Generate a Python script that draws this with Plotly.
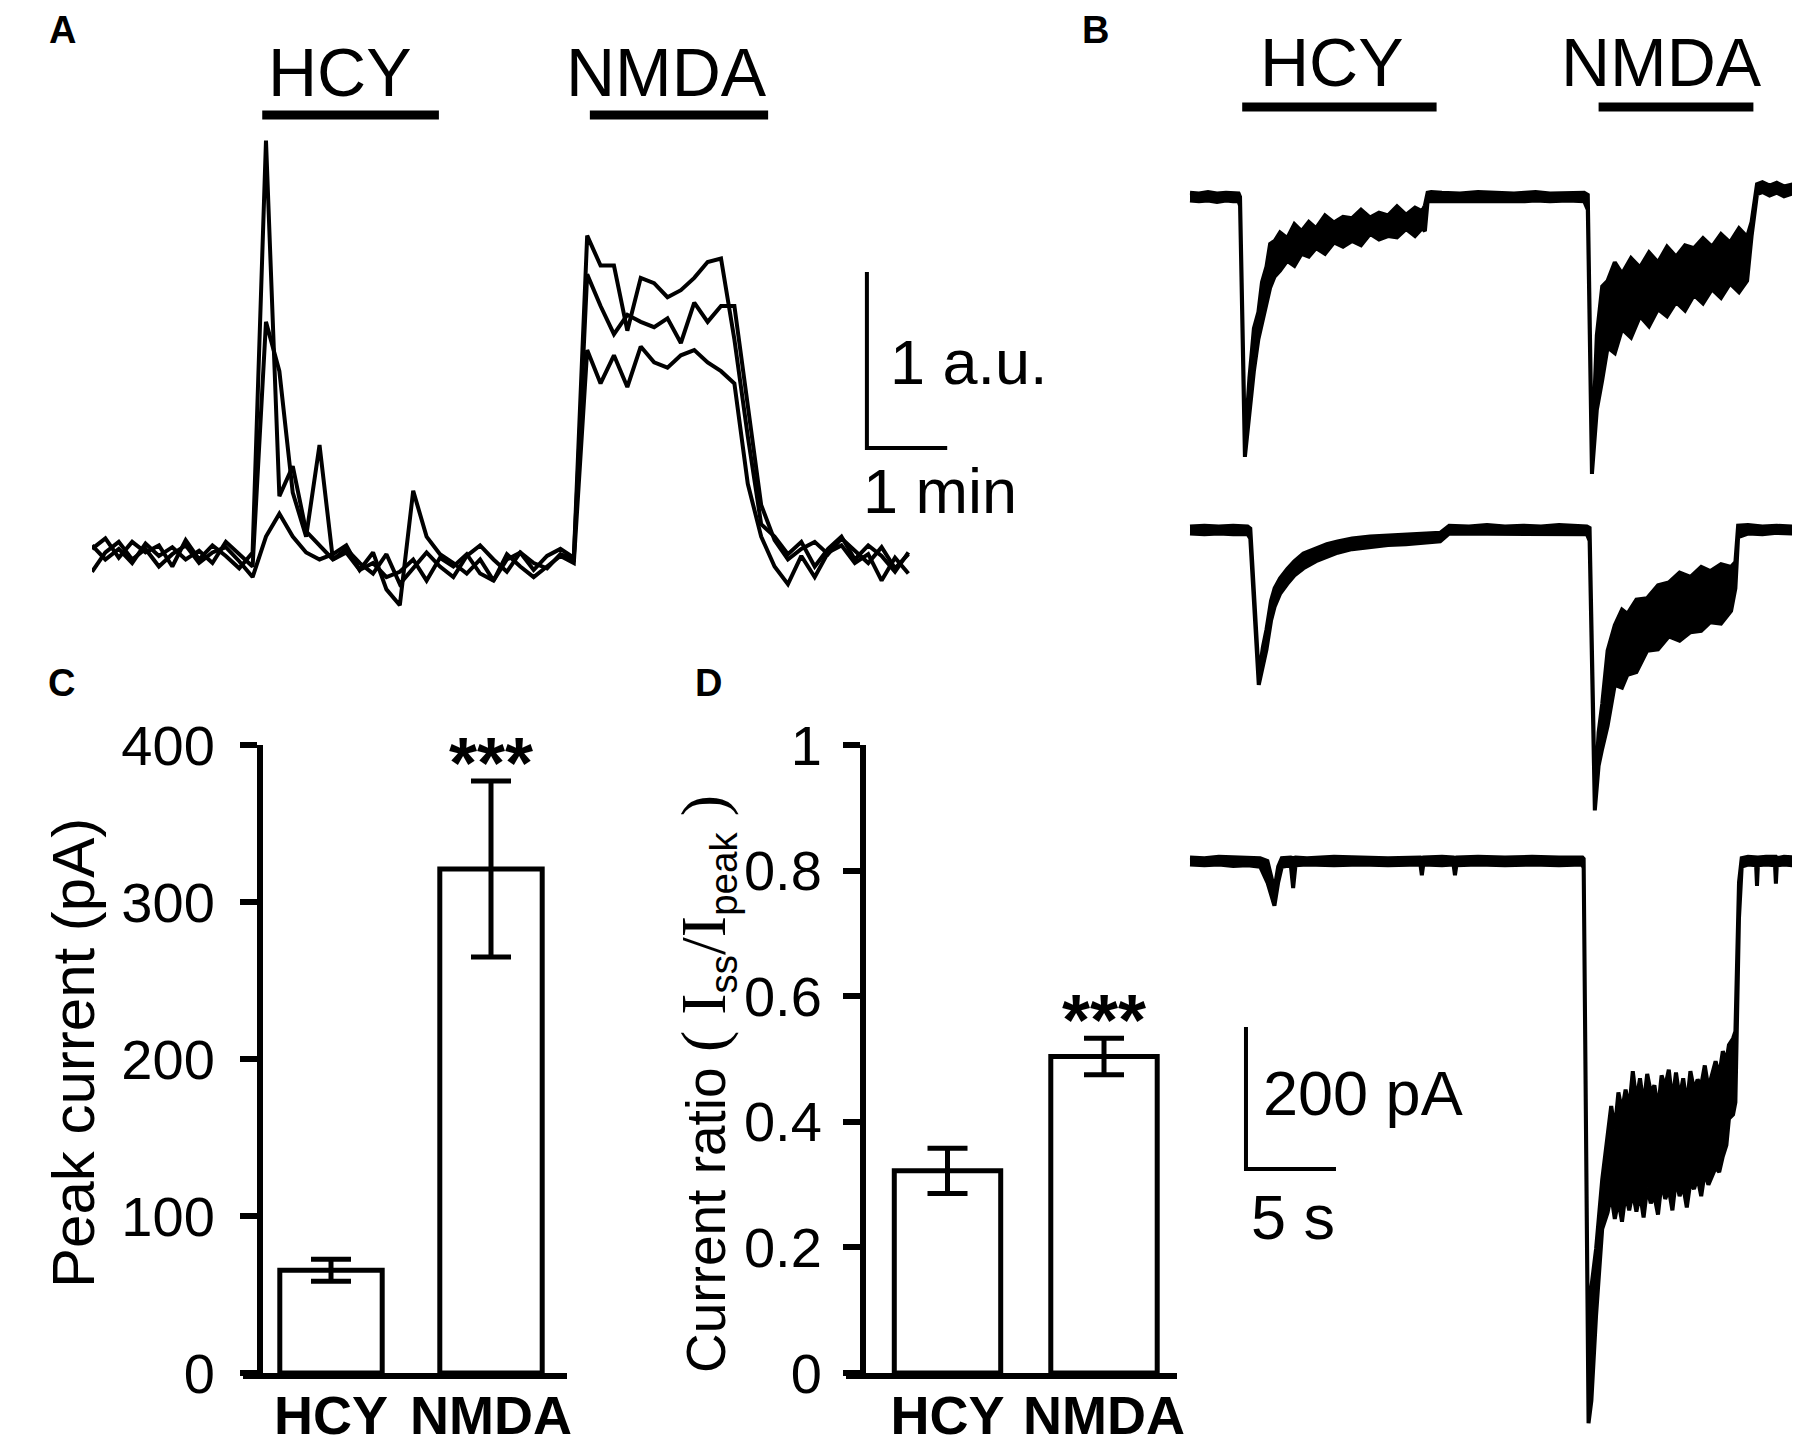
import plotly.graph_objects as go

W, H = 1800, 1442
PAGE_MARGIN = 8  # default <body> margin of the html page
FONT = "Liberation Sans, Arial, sans-serif"
SERIF = "Liberation Serif, Times New Roman, serif"

# ---------------- panel A : three cells, one sample every 10 s (values in a.u.)
A_DT = 1 / 6  # min
A_CELL_1 = [0.08, 0.14, 0.03, 0.12, 0.06, 0.10, -0.02, 0.13, 0.02, 0.10, 0.04, -0.03, 0.06,
            2.40, 0.38, 0.55, 0.18, 0.10, 0.02, 0.06, -0.04, 0.00, -0.08, -0.05, 0.02, -0.10,
            0.03, -0.02, 0.05, -0.06, -0.10, 0.02, 0.06, -0.04, 0.04, 0.08, 0.03,
            1.86, 1.69, 1.69, 1.32, 1.62, 1.59, 1.51, 1.55, 1.62, 1.71, 1.73, 1.27, 0.72, 0.22, 0.15,
            0.05, 0.12, -0.02, 0.08, 0.15, 0.02, 0.10, 0.04, -0.05, 0.06]
A_CELL_2 = [0.10, 0.02, 0.08, 0.00, 0.11, 0.04, 0.09, 0.02, 0.07, 0.00, 0.12, 0.05, -0.02,
            1.37, 1.09, 0.40, 0.15, 0.67, 0.02, 0.08, 0.00, -0.06, 0.05, -0.12, -0.03, 0.06,
            -0.02, -0.08, 0.04, 0.10, 0.02, -0.05, 0.06, 0.00, -0.03, 0.05, 0.02,
            1.64, 1.46, 1.30, 1.41, 1.37, 1.34, 1.39, 1.25, 1.48, 1.37, 1.46, 1.46, 0.91, 0.33, 0.13,
            0.02, 0.08, 0.12, 0.05, 0.14, 0.07, 0.00, 0.09, -0.03, 0.05]
A_CELL_3 = [-0.05, 0.06, 0.12, 0.02, 0.08, -0.02, 0.05, 0.10, 0.00, 0.06, 0.09, 0.01, -0.08,
            0.15, 0.28, 0.15, 0.06, 0.02, 0.05, 0.10, -0.04, 0.06, -0.15, -0.24, 0.41, 0.15,
            0.05, 0.00, -0.06, 0.02, -0.10, 0.05, -0.02, -0.08, -0.02, 0.04, 0.00,
            1.21, 1.02, 1.18, 1.00, 1.23, 1.14, 1.11, 1.18, 1.21, 1.14, 1.09, 1.02, 0.45, 0.15, -0.02,
            -0.12, 0.04, -0.08, 0.06, 0.10, 0.00, 0.05, -0.10, 0.03, -0.06]
A_HCY = (2.12, 4.32)    # min
A_NMDA = (6.2, 8.42)
A_BAR_ORIGIN = (9.65, 0.653)  # scale bar corner (min, a.u.)

# ---------------- panel B : whole-cell currents (s, pA); band = upper / lower edge of the noisy trace
B_HCY = (2.9, 13.7)
B_NMDA = (22.7, 31.3)
B1_T = [0.0, 0.5, 1.0, 1.5, 2.0, 2.4, 2.7, 2.78,
        3.05, 3.3, 3.55, 3.8, 4.0, 4.25, 4.45, 4.7,
        5.0, 5.4, 5.8, 6.2, 6.6, 7.0, 7.5, 8.0,
        8.5, 9.0, 9.5, 10.0, 10.5, 11.0, 11.5, 12.0,
        12.5, 12.9, 13.05, 13.2, 13.4, 14.0, 15.0, 16.0,
        17.0, 18.0, 18.6, 19.2, 20.0, 21.0, 21.9, 22.1,
        22.33, 22.6, 22.9, 23.2, 23.6, 24.0, 24.5, 25.0,
        25.5, 26.0, 26.5, 27.0, 27.5, 28.0, 28.5, 29.0,
        29.5, 30.0, 30.5, 30.95, 31.2, 31.5, 31.8, 32.2,
        32.6, 33.0, 33.5]
B1_UP = [6, 5, 7, 5, 6, 5, 5, 0,
         -350, -255, -185, -162, -120, -98, -66, -62,
         -50, -58, -38, -48, -35, -44, -26, -36,
         -28, -30, -18, -29, -22, -26, -13, -25,
         -15, -20, -12, 6, 7, 6, 5, 7,
         6, 5, 6, 7, 5, 6, 6, 3,
         -372, -195, -126, -118, -92, -108, -86, -99,
         -78, -92, -70, -84, -68, -72, -58, -70,
         -52, -64, -44, -56, -35, 18, 21, 16,
         20, 15, 18]
B1_LO = [-5, -6, -5, -7, -5, -6, -6, -12,
         -366, -305, -245, -200, -172, -150, -128, -112,
         -104, -90, -97, -80, -84, -72, -80, -64,
         -70, -62, -68, -52, -60, -55, -57, -45,
         -55, -44, -48, -6, -5, -6, -5, -6,
         -5, -6, -6, -5, -6, -5, -6, -18,
         -390, -300, -258, -212, -220, -186, -198, -168,
         -182, -158, -168, -148, -160, -138, -150, -130,
         -142, -122, -134, -118, -55, 4, 7, 2,
         6, 1, 5]

B2_T = [0.0, 0.8, 1.6, 2.4, 3.2, 3.35, 3.82, 4.05,
        4.25, 4.5, 4.7, 5.0, 5.4, 5.8, 6.3, 7.0,
        7.6, 8.2, 9.0, 10.0, 11.0, 12.0, 13.0, 13.9,
        14.4, 15.5, 16.5, 17.5, 18.5, 19.5, 20.5, 21.5,
        22.05, 22.2, 22.49, 22.7, 22.9, 23.2, 23.6, 24.0,
        24.3, 24.8, 25.4, 26.0, 26.6, 27.2, 27.8, 28.4,
        28.9, 29.5, 30.06, 30.3, 30.45, 31.0, 31.8, 32.6,
        33.5]
B2_UP = [5, 6, 5, 6, 5, 2, -205, -165,
         -140, -100, -82, -68, -55, -44, -33, -26,
         -20, -16, -12, -9, -8, -6, -5, -4,
         6, 5, 7, 5, 6, 5, 7, 5,
         5, 3, -378, -285, -245, -170, -134, -112,
         -118, -98, -96, -78, -74, -60, -66, -52,
         -58, -48, -52, -45, 6, 7, 5, 6,
         5]
B2_LO = [-5, -6, -5, -6, -6, -12, -218, -192,
         -168, -128, -108, -90, -76, -64, -54, -44,
         -38, -32, -27, -24, -21, -20, -18, -16,
         -5, -6, -5, -6, -5, -6, -5, -6,
         -6, -15, -395, -332, -308, -276, -218, -222,
         -204, -200, -170, -168, -150, -156, -144, -142,
         -130, -132, -114, -82, -10, -5, -6, -4,
         -5]

B3_T = [0.0, 0.8, 1.6, 2.4, 3.2, 3.9, 4.3, 4.69,
        4.9, 5.1, 5.6, 5.73, 5.86, 6.5, 8.0, 9.5,
        11.0, 12.8, 12.88, 12.96, 14.0, 14.64, 14.72, 14.8,
        16.0, 17.5, 19.0, 20.5, 21.8, 21.87, 22.14, 22.3,
        22.56, 22.9, 23.2, 23.4, 23.6, 23.8, 24.0, 24.2, 24.4, 24.6,
        24.8, 25.0, 25.2, 25.4, 25.6, 25.8, 26.0, 26.2, 26.4, 26.6,
        26.8, 27.0, 27.2, 27.4, 27.6, 27.8, 28.0, 28.2, 28.4, 28.6,
        28.8, 29.0, 29.2, 29.4, 29.6, 29.8, 29.94, 30.17, 30.3,
        30.5, 30.65, 31.0, 31.45, 31.5, 31.55, 32.0, 32.5, 32.55, 32.6, 33.0, 33.5]
B3_UP = [5, 4, 6, 5, 5, 4, 0, -40,
         -8, 4, 5, 4, 5, 4, 6, 5,
         4, 5, 4, 5, 6, 5, 4, 5,
         6, 5, 6, 5, 5, 3, -770, -600,
         -546, -449, -390, -345, -378, -326, -352, -322, -348, -296,
         -338, -306, -344, -300, -326, -316, -350, -302, -318, -294,
         -338, -298, -334, -306, -344, -296, -322, -308, -316, -288,
         -320, -298, -282, -302, -268, -282, -259, -250, -240,
         -30, 4, 6, 5, 6, 5, 6, 5, 6, 4, 6, 5]
B3_LO = [-5, -6, -5, -7, -6, -8, -30, -63,
         -30, -8, -6, -38, -6, -5, -6, -5,
         -6, -5, -20, -5, -6, -5, -20, -6,
         -5, -6, -5, -6, -5, -10, -792, -760,
         -640, -518, -495, -470, -504, -478, -508, -468, -492, -466,
         -494, -468, -502, -460, -482, -472, -498, -452, -476, -462,
         -492, -448, -472, -458, -488, -452, -462, -446, -472, -438,
         -456, -444, -432, -438, -416, -400, -363, -357, -340,
         -80, -8, -5, -6, -35, -6, -5, -6, -32, -6, -5, -6]
B_BAR_ORIGIN = (3.11, -433.8)  # s, pA on the bottom sweep

# ---------------- panels C / D : mean +/- SEM
GROUPS = ["HCY", "NMDA"]
PEAK_MEAN = [65.5, 321]
PEAK_SEM = [7, 56]
RATIO_MEAN = [0.322, 0.504]
RATIO_SEM = [0.036, 0.029]


def px(x):
    return (x - PAGE_MARGIN) / W


def py(y):
    return 1 - (y - PAGE_MARGIN) / H


fig = go.Figure()

# panel A traces
a_t = [i * A_DT for i in range(len(A_CELL_1))]
for cell in (A_CELL_1, A_CELL_2, A_CELL_3):
    fig.add_trace(go.Scatter(x=a_t, y=cell, mode="lines", xaxis="x", yaxis="y",
                             line=dict(color="black", width=4)))

# panel B sweeps, drawn as filled bands
for t, up, lo, ya in ((B1_T, B1_UP, B1_LO, "y4"), (B2_T, B2_UP, B2_LO, "y5"), (B3_T, B3_UP, B3_LO, "y6")):
    assert len(t) == len(up) == len(lo)
    fig.add_trace(go.Scatter(x=t + t[::-1], y=up + lo[::-1], mode="lines", fill="toself",
                             fillcolor="black", line=dict(color="black", width=4),
                             xaxis="x4", yaxis=ya))

# panels C and D bars
bar_line = dict(color="black", width=5)
err = lambda v: dict(type="data", array=v, color="black", thickness=5, width=20)
fig.add_trace(go.Bar(x=[0, 1], y=PEAK_MEAN, error_y=err(PEAK_SEM), width=0.64,
                     marker=dict(color="white", line=bar_line), xaxis="x2", yaxis="y2"))
fig.add_trace(go.Bar(x=[0, 1], y=RATIO_MEAN, error_y=err(RATIO_SEM), width=0.68,
                     marker=dict(color="white", line=bar_line), xaxis="x3", yaxis="y3"))

hidden = dict(visible=False, automargin=False)
cat_font = dict(family=FONT, size=54, color="black")
num_font = dict(family=FONT, size=56, color="black")
common = dict(showline=True, linewidth=6, linecolor="black", showgrid=False, zeroline=False,
              automargin=False)
fig.update_layout(
    template="none",
    width=W, height=H, margin=dict(l=0, r=0, t=0, b=0, pad=0, autoexpand=False),
    paper_bgcolor="white", plot_bgcolor="white", showlegend=False,
    font=dict(family=FONT, color="black"),
    # A
    xaxis=dict(hidden, domain=[px(92), px(1000)], range=[0, 908 / 80.3], anchor="y"),
    yaxis=dict(hidden, domain=[py(640), py(120)], range=[-77 / 176, 443 / 176], anchor="x"),
    # C
    xaxis2=dict(common, domain=[px(243), px(567)], range=[-88 / 160, 236 / 160], anchor="y2",
                ticks="", tickvals=[0, 1], ticktext=["<b>%s</b>" % g for g in GROUPS],
                tickfont=cat_font, ticklabelstandoff=-10),
    yaxis2=dict(common, domain=[py(1373), py(745)], range=[0, 400], anchor="free", position=px(260),
                ticks="outside", ticklen=17, tickwidth=6, tickcolor="black", dtick=100,
                tickfont=num_font, ticklabelstandoff=14),
    # D
    xaxis3=dict(common, domain=[px(846), px(1177)], range=[-101.5 / 156.5, 229.5 / 156.5],
                anchor="y3", ticks="", tickvals=[0, 1], ticktext=["<b>%s</b>" % g for g in GROUPS],
                tickfont=cat_font, ticklabelstandoff=-10),
    yaxis3=dict(common, domain=[py(1373), py(745)], range=[0, 1], anchor="free", position=px(863),
                ticks="outside", ticklen=17, tickwidth=6, tickcolor="black", dtick=0.2,
                tickfont=num_font, ticklabelstandoff=10),
    # B
    xaxis4=dict(hidden, domain=[px(1180), px(1795)], range=[-10 / 18, 605 / 18], anchor="y4"),
    yaxis4=dict(hidden, domain=[py(485), py(140)], range=[-288 / 0.71, 57 / 0.71], anchor="x4"),
    yaxis5=dict(hidden, domain=[py(832), py(488)], range=[-302 / 0.71, 42 / 0.71], anchor="x4"),
    yaxis6=dict(hidden, domain=[py(1440), py(835)], range=[-579 / 0.71, 26 / 0.71], anchor="x4"),
)

shapes = []
# drug application bars
for (on, off), xr, yb in ((A_HCY, "x", 115), (A_NMDA, "x", 115), (B_HCY, "x4", 107), (B_NMDA, "x4", 107)):
    shapes.append(dict(type="line", xref=xr, yref="paper", x0=on, x1=off, y0=py(yb), y1=py(yb),
                       line=dict(color="black", width=9)))
# scale bars
ax0, ay0 = A_BAR_ORIGIN
shapes.append(dict(type="path", xref="x", yref="y",
                   path=f"M {ax0},{ay0 + 1} L {ax0},{ay0} L {ax0 + 1},{ay0}",
                   line=dict(color="black", width=4)))
bx0, by0 = B_BAR_ORIGIN
shapes.append(dict(type="path", xref="x4", yref="y6",
                   path=f"M {bx0},{by0 + 200} L {bx0},{by0} L {bx0 + 5},{by0}",
                   line=dict(color="black", width=4)))
fig.update_layout(shapes=shapes)


def label(text, x, y, size, xanchor="center", bold=False, **kw):
    fig.add_annotation(text=("<b>%s</b>" % text) if bold else text, x=px(x), y=py(y),
                       xref="paper", yref="paper", showarrow=False, xanchor=xanchor,
                       yanchor="middle", font=dict(family=FONT, size=size, color="black"), **kw)


for letter, x, y in (("A", 62, 30), ("B", 1095, 30), ("C", 61, 683), ("D", 708, 683)):
    label(letter, x, y, 38, bold=True)

label("HCY", 340, 72, 68)
label("NMDA", 666, 72, 68)
label("HCY", 1332, 62, 68)
label("NMDA", 1661, 62, 68)
label("1 a.u.", 888, 362, 63, xanchor="left")
label("1 min", 861, 491, 63, xanchor="left")
label("200 pA", 1261, 1093, 63, xanchor="left")
label("5 s", 1249, 1217, 63, xanchor="left")

label("Peak current (pA)", 73, 1053, 60, textangle=-90)
serif = "<span style='font-family:%s;font-size:64px'>%%s</span>" % SERIF
label("Current ratio " + serif % "( I" + "<sub>ss</sub>" + serif % "/I" + "<sub>peak</sub>"
      + serif % " )", 706, 1084, 55, textangle=-90)

for xa, ya, mean, sem in (("x2", "y2", PEAK_MEAN, PEAK_SEM), ("x3", "y3", RATIO_MEAN, RATIO_SEM)):
    fig.add_annotation(text="<b>***</b>", x=1, y=mean[1] + sem[1], xref=xa, yref=ya,
                       showarrow=False, yanchor="bottom", yshift=-24,
                       font=dict(family=FONT, size=72, color="black"))

fig.write_html("out.html")
